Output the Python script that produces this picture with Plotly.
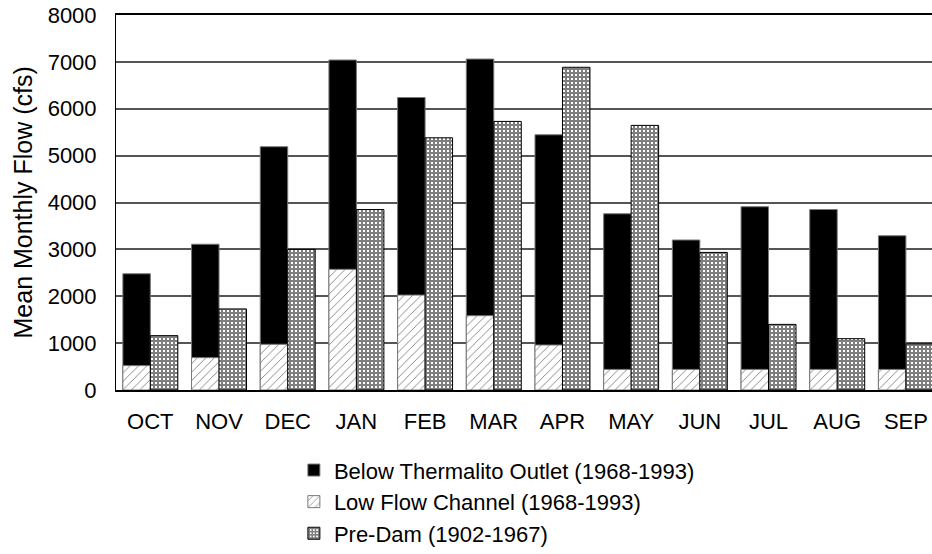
import plotly.graph_objects as go

months = ["OCT", "NOV", "DEC", "JAN", "FEB", "MAR", "APR", "MAY", "JUN", "JUL", "AUG", "SEP"]
below_thermalito = [2480, 3110, 5190, 7040, 6240, 7060, 5445, 3760, 3200, 3910, 3850, 3290]
low_flow_channel = [520, 690, 975, 2575, 2025, 1585, 960, 440, 440, 440, 440, 440]
pre_dam = [1160, 1730, 3000, 3850, 5380, 5730, 6885, 5645, 2935, 1400, 1095, 985]
y_ticks = [0, 1000, 2000, 3000, 4000, 5000, 6000, 7000, 8000]
y_title = "Mean Monthly Flow (cfs)"

FONT = "Liberation Sans, Arial, sans-serif"

fig = go.Figure()
fig.add_trace(go.Bar(
    x=months, y=below_thermalito, name="Below Thermalito Outlet (1968-1993)",
    width=0.4, offset=-0.4,
    marker=dict(color="black", line=dict(color="#777777", width=1)),
))
fig.add_trace(go.Bar(
    x=months, y=low_flow_channel, name="Low Flow Channel (1968-1993)",
    width=0.4, offset=-0.4,
    marker=dict(color="white", line=dict(color="#777777", width=1),
                pattern=dict(shape="/", fgcolor="black", bgcolor="white", size=6, solidity=0.15)),
))
fig.add_trace(go.Bar(
    x=months, y=pre_dam, name="Pre-Dam (1902-1967)",
    width=0.4, offset=0,
    marker=dict(color="white", line=dict(color="black", width=1),
                pattern=dict(shape="+", fgcolor="black", bgcolor="white", size=4, solidity=0.75)),
))

fig.update_layout(
    width=932, height=554,
    barmode="overlay",
    plot_bgcolor="white", paper_bgcolor="white",
    margin=dict(l=116, r=0, t=15, b=164, autoexpand=False),
    font=dict(family=FONT, size=22, color="black"),
    showlegend=True,
    legend=dict(
        x=0.218, y=-0.158, xanchor="left", yanchor="top",
        font=dict(family=FONT, size=22, color="black"),
        traceorder="normal",
        bgcolor="rgba(0,0,0,0)",
    ),
    annotations=[dict(
        text=y_title, textangle=-90,
        xref="paper", yref="paper", x=0, y=0.5,
        xanchor="center", yanchor="middle", xshift=-94, showarrow=False,
        font=dict(family=FONT, size=25, color="black"),
    )],
)
fig.update_xaxes(
    range=[-0.5, 11.38], automargin=False,
    showline=True, linecolor="black", linewidth=2, mirror=True,
    ticks="", ticklabelstandoff=11, ticklabeloverflow="allow",
    tickfont=dict(family=FONT, size=22, color="black"),
    showgrid=False, zeroline=False,
)
fig.update_yaxes(
    range=[0, 8000], tickvals=y_ticks, automargin=False,
    showline=True, linecolor="black", linewidth=1,
    ticks="", ticklabelstandoff=14, ticklabeloverflow="allow",
    tickfont=dict(family=FONT, size=22, color="black"),
    showgrid=True, gridcolor="#555555", gridwidth=1.5, zeroline=False,
)

fig.write_html(
    "out.html",
    config={"displayModeBar": False},
    post_script="document.body.style.margin='0';document.body.style.overflow='hidden';",
)
